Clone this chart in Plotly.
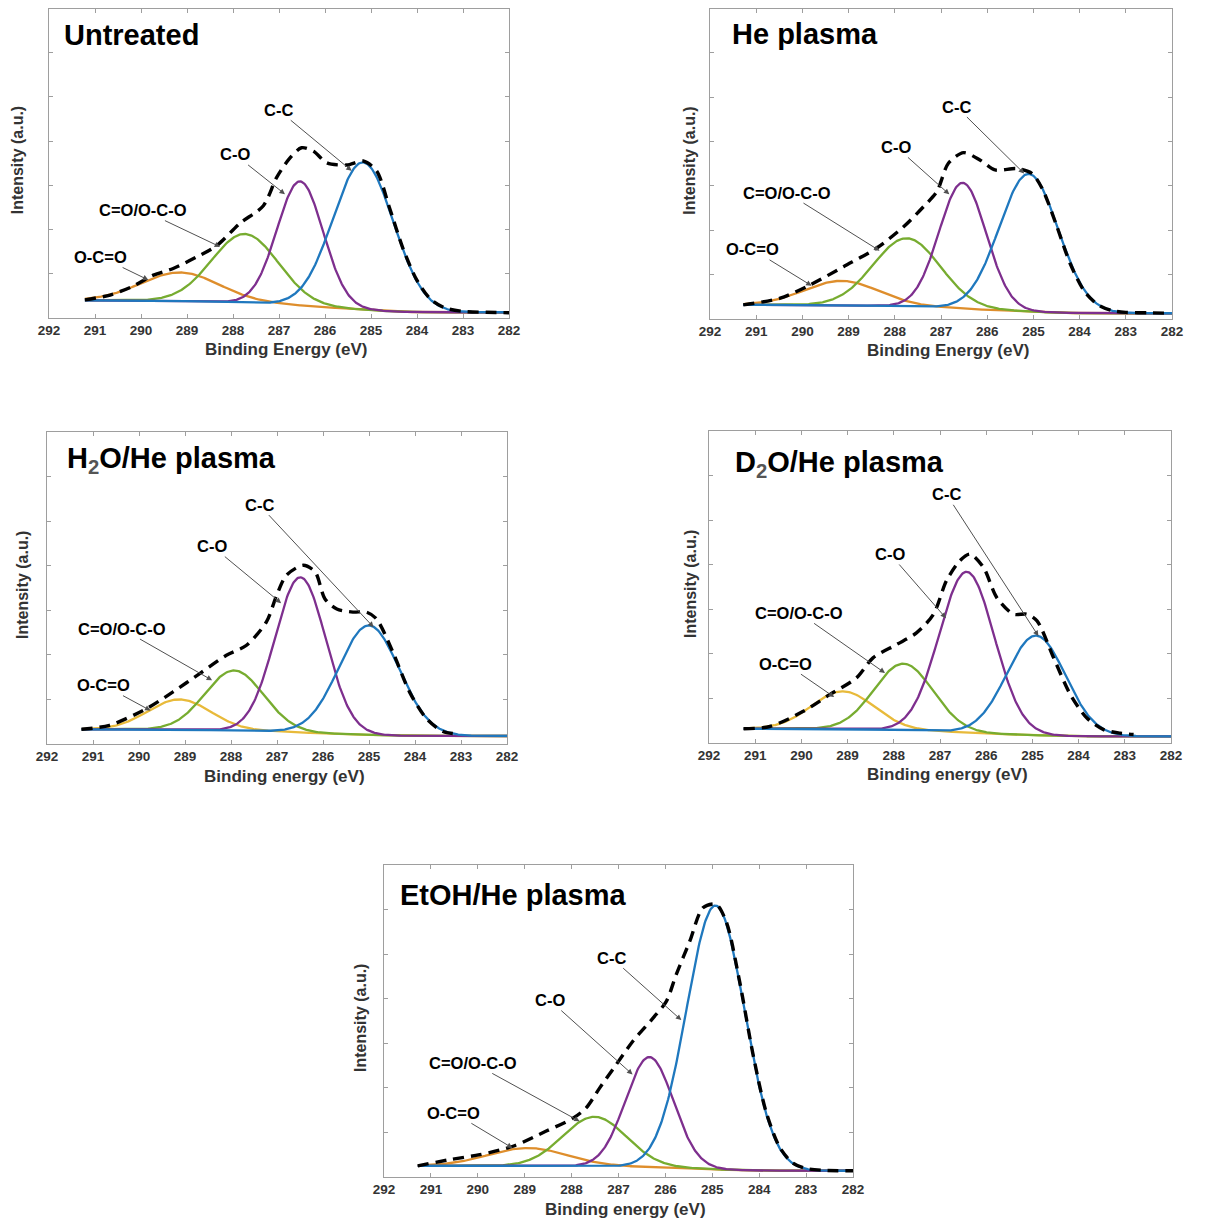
import math
import numpy as np
import plotly.graph_objects as go

# ---------------- data ----------------
panel_titles = ["Untreated", "He plasma",
                "H<sub><span style='color:#555555'>2</span></sub>O/He plasma",
                "D<sub><span style='color:#555555'>2</span></sub>O/He plasma",
                "EtOH/He plasma"]
x_titles = ["Binding Energy (eV)", "Binding Energy (eV)", "Binding energy (eV)",
            "Binding energy (eV)", "Binding energy (eV)"]
y_title = "Intensity (a.u.)"
component_names = ["C-C", "C-O", "C=O/O-C-O", "O-C=O"]
x_ticks = [292, 291, 290, 289, 288, 287, 286, 285, 284, 283, 282]

# component peak centres (eV), peak intensity (a.u.), FWHM (eV)  order: C-C, C-O, C=O/O-C-O, O-C=O
centers_untreated = [285.17, 286.54, 287.74, 289.15]
peaks_untreated = [3.52, 3.09, 1.90, 1.03]
fwhm_untreated = [1.55, 1.18, 1.70, 2.00]
background_untreated = [0.40, 0.13]          # intensity at high-BE start / low-BE end
start_untreated = 291.22

centers_he = [285.10, 286.53, 287.74, 289.15]
peaks_he = [3.27, 3.07, 1.82, 0.86]
fwhm_he = [1.50, 1.20, 1.70, 1.90]
background_he = [0.32, 0.13]
start_he = 291.28

centers_h2o = [285.00, 286.49, 287.93, 289.12]
peaks_h2o = [2.66, 3.74, 1.65, 1.00]
fwhm_h2o = [1.55, 1.30, 1.50, 1.60]
background_h2o = [0.33, 0.18]
start_h2o = 291.25

centers_d2o = [284.92, 286.42, 287.79, 289.10]
peaks_d2o = [2.41, 3.84, 1.78, 1.16]
fwhm_d2o = [1.50, 1.40, 1.50, 1.60]
background_d2o = [0.32, 0.15]
start_d2o = 291.25

centers_etoh = [284.93, 286.34, 287.51, 288.93]
peaks_etoh = [6.09, 2.69, 1.35, 0.65]
fwhm_etoh = [1.45, 1.20, 1.60, 2.00]
background_etoh = [0.25, 0.14]
start_etoh = 291.28

# measured envelope (dashed line)
env_e_untreated = [291.22, 290.67, 290.17, 289.73, 289.30, 288.79, 288.35, 287.85, 287.34, 287.05,
                   286.76, 286.51, 286.25, 285.96, 285.53, 285.17, 284.88, 284.60, 284.30, 284.00,
                   283.70, 283.40, 283.00, 282.50, 282.00]
env_i_untreated = [0.41, 0.52, 0.72, 0.97, 1.12, 1.38, 1.64, 2.14, 2.54, 3.18,
                   3.62, 3.85, 3.77, 3.51, 3.46, 3.55, 3.33, 2.50, 1.56, 0.85,
                   0.42, 0.23, 0.15, 0.13, 0.12]

env_e_he = [291.28, 290.48, 289.83, 289.11, 288.39, 287.81, 287.38, 287.09, 286.84, 286.51,
            286.15, 285.83, 285.36, 285.03, 284.80, 284.50, 284.20, 283.90, 283.60, 283.30,
            283.00, 282.50, 282.05]
env_i_he = [0.32, 0.47, 0.77, 1.18, 1.60, 2.08, 2.53, 2.87, 3.51, 3.75,
            3.58, 3.36, 3.39, 3.28, 2.92, 2.11, 1.24, 0.63, 0.32, 0.19,
            0.15, 0.14, 0.13]

env_e_h2o = [291.25, 290.64, 289.84, 289.26, 288.68, 288.10, 287.67, 287.23, 287.01, 286.80,
             286.43, 286.17, 285.96, 285.70, 285.35, 285.06, 284.84, 284.48, 284.12, 283.75,
             283.39, 283.10]
env_i_h2o = [0.33, 0.42, 0.79, 1.17, 1.58, 1.99, 2.21, 2.74, 3.33, 3.78,
             4.01, 3.86, 3.26, 3.03, 2.96, 2.96, 2.81, 2.06, 1.17, 0.57,
             0.28, 0.23]

env_e_d2o = [291.25, 290.68, 289.96, 289.38, 288.81, 288.45, 287.94, 287.51, 287.14, 286.86,
             286.57, 286.35, 286.06, 285.77, 285.41, 285.12, 284.90, 284.54, 284.18, 283.82,
             283.46, 283.10, 282.81]
env_i_d2o = [0.32, 0.37, 0.71, 1.09, 1.46, 1.91, 2.21, 2.47, 2.89, 3.64,
             4.09, 4.24, 3.94, 3.26, 2.89, 2.89, 2.74, 1.91, 1.09, 0.56,
             0.30, 0.22, 0.19]

env_e_etoh = [291.28, 290.60, 289.96, 289.25, 288.54, 287.97, 287.69, 287.40, 287.05, 286.69,
              286.26, 285.98, 285.77, 285.48, 285.20, 284.92, 284.70, 284.42, 284.13, 283.85,
              283.56, 283.28, 283.00, 282.64, 282.00]
env_i_etoh = [0.25, 0.39, 0.50, 0.69, 1.03, 1.32, 1.55, 2.00, 2.52, 3.05,
              3.57, 3.94, 4.54, 5.29, 6.04, 6.12, 5.72, 4.40, 2.74, 1.45,
              0.66, 0.31, 0.19, 0.15, 0.14]

# ---------------- layout / styling (not data) ----------------
OFF = 8                       # page body margin of the html page
W, H = 1208 - OFF, 1225 - OFF
# axes boxes in reference-page pixels: left, right, top, bottom
boxes = [(49, 509, 6, 318), (710, 1172, 7, 319), (47, 507, 432, 744),
         (709, 1171, 431, 743), (384, 853, 865, 1177)]
ytitle_dx = [-32, -20, -25, -19, -24]     # px offset of y-title centre from axis line
title_pos = [(0.028, 0.913), (0.043, 0.917), (0.039, 0.910), (0.052, 0.894), (0.030, 0.904)]
# label text centre (x, y) and arrow tip (x, y), in data units, order C-C, C-O, C=O/O-C-O, O-C=O
label_pos = [
    [(287.02, 4.71, 285.42, 3.33), (287.96, 3.70, 286.87, 2.80), (289.96, 2.44, 288.28, 1.61), (290.87, 1.38, 289.84, 0.86)],
    [(286.67, 4.79, 285.20, 3.28), (287.97, 3.88, 286.82, 2.81), (290.34, 2.85, 288.33, 1.54), (291.08, 1.57, 289.80, 0.75)],
    [(287.39, 5.37, 284.90, 2.62), (288.41, 4.44, 286.91, 3.16), (290.38, 2.59, 288.41, 1.43), (290.77, 1.32, 289.75, 0.75)],
    [(286.86, 5.58, 284.87, 2.40), (288.08, 4.24, 286.87, 2.80), (290.05, 2.92, 288.19, 1.57), (290.34, 1.78, 289.29, 1.03)],
    [(287.15, 4.92, 285.66, 3.52), (288.47, 3.97, 286.70, 2.30), (290.10, 2.56, 287.83, 1.25), (290.51, 1.44, 289.26, 0.65)],
]
orange = "#DE8E2C"
yellow = "#E8BA3A"
comp_colors = [
    ["#1F78BE", "#7E2F8E", "#77AC30", orange],
    ["#1F78BE", "#7E2F8E", "#77AC30", orange],
    ["#1F78BE", "#7E2F8E", "#77AC30", yellow],
    ["#1F78BE", "#7E2F8E", "#77AC30", yellow],
    ["#1F78BE", "#7E2F8E", "#77AC30", orange],
]
FONT = "Liberation Sans, Arial, sans-serif"
FRAME = "#9E9E9E"

panels = [
    (centers_untreated, peaks_untreated, fwhm_untreated, background_untreated, start_untreated, env_e_untreated, env_i_untreated),
    (centers_he, peaks_he, fwhm_he, background_he, start_he, env_e_he, env_i_he),
    (centers_h2o, peaks_h2o, fwhm_h2o, background_h2o, start_h2o, env_e_h2o, env_i_h2o),
    (centers_d2o, peaks_d2o, fwhm_d2o, background_d2o, start_d2o, env_e_d2o, env_i_d2o),
    (centers_etoh, peaks_etoh, fwhm_etoh, background_etoh, start_etoh, env_e_etoh, env_i_etoh),
]

erf = np.vectorize(math.erf)


def shirley_like(x, c, amp, sig, hi, lo):
    w = amp * sig
    below = np.zeros_like(x, dtype=float)
    for ci, wi, si in zip(c, w, sig):
        below += wi * 0.5 * (1 + erf((x - ci) / (si * math.sqrt(2))))
    return lo + (hi - lo) * below / w.sum()


def px(v):
    return max(v - OFF, 0.5)


fig = go.Figure()
layout = dict(width=W, height=H, autosize=False, margin=dict(l=0, r=0, t=0, b=0, autoexpand=False),
              paper_bgcolor="white", plot_bgcolor="white", showlegend=False,
              font=dict(family=FONT, color="#222222"))
annotations = []

for k, (cen, pk, fw, bgv, x0, ee, ei) in enumerate(panels):
    n = "" if k == 0 else str(k + 1)
    xa, ya = "x" + n, "y" + n
    c = np.array(cen)
    sig = np.array(fw) / 2.3548
    hi, lo = bgv
    amp = np.array(pk) - lo
    for _ in range(3):
        bc = shirley_like(c, c, amp, sig, hi, lo)
        amp = np.array(pk) - bc
    x = np.linspace(x0, 282.0, 500)
    bg = shirley_like(x, c, amp, sig, hi, lo)
    for j in [3, 2, 1, 0]:
        y = bg + amp[j] * np.exp(-0.5 * ((x - c[j]) / sig[j]) ** 2)
        fig.add_trace(go.Scatter(x=x, y=y, mode="lines", name=component_names[j],
                                 line=dict(color=comp_colors[k][j], width=2.3),
                                 xaxis=xa, yaxis=ya, hoverinfo="skip"))
    fig.add_trace(go.Scatter(x=ee, y=ei, mode="lines", name="Envelope",
                             line=dict(color="black", width=3.4, dash="11px,7px", shape="spline", smoothing=0.8),
                             xaxis=xa, yaxis=ya, hoverinfo="skip"))

    l, r, t, b = [px(v) for v in boxes[k]]
    axis_common = dict(showline=True, linecolor=FRAME, linewidth=1, mirror="ticks",
                       ticks="inside", ticklen=4, tickcolor=FRAME, tickwidth=1,
                       showgrid=False, zeroline=False, fixedrange=True, automargin=False)
    layout["xaxis" + n] = dict(domain=[l / W, r / W], range=[292, 282], anchor=ya,
                               tickvals=x_ticks, ticktext=[str(v) for v in x_ticks],
                               tickfont=dict(size=13.5, family=FONT, color="#333333", weight="bold"),
                               **axis_common)
    layout["yaxis" + n] = dict(domain=[1 - b / H, min(1.0, 1 - t / H)], range=[0, 7], anchor=xa,
                               tickvals=[0, 1, 2, 3, 4, 5, 6, 7], showticklabels=False,
                               **axis_common)
    # axis titles
    annotations.append(dict(text=x_titles[k], xref="paper", yref="paper",
                            x=((l + r) / 2 + 7) / W, y=1 - (b + 32) / H,
                            xanchor="center", yanchor="middle", showarrow=False,
                            font=dict(size=17, family=FONT, color="#333333", weight="bold")))
    annotations.append(dict(text=y_title, xref="paper", yref="paper", textangle=-90,
                            x=(l + ytitle_dx[k]) / W, y=1 - ((t + b) / 2 - 3) / H,
                            xanchor="center", yanchor="middle", showarrow=False,
                            font=dict(size=16, family=FONT, color="#333333", weight="bold")))
    tx, ty = title_pos[k]
    annotations.append(dict(text=panel_titles[k], xref=xa + " domain", yref=ya + " domain",
                            x=tx, y=ty, xanchor="left", yanchor="middle", showarrow=False,
                            font=dict(size=29, family=FONT, color="black", weight="bold")))
    for j, (lx, ly, ax_, ay_) in enumerate(label_pos[k]):
        annotations.append(dict(text=component_names[j], x=ax_, y=ay_, ax=lx, ay=ly,
                                xref=xa, yref=ya, axref=xa, ayref=ya,
                                showarrow=True, arrowhead=2, arrowsize=1.1, arrowwidth=1,
                                arrowcolor="#505050", standoff=0,
                                font=dict(size=16.5, family=FONT, color="black", weight="bold")))

layout["annotations"] = annotations
fig.update_layout(**layout)
fig.write_html("out.html")
